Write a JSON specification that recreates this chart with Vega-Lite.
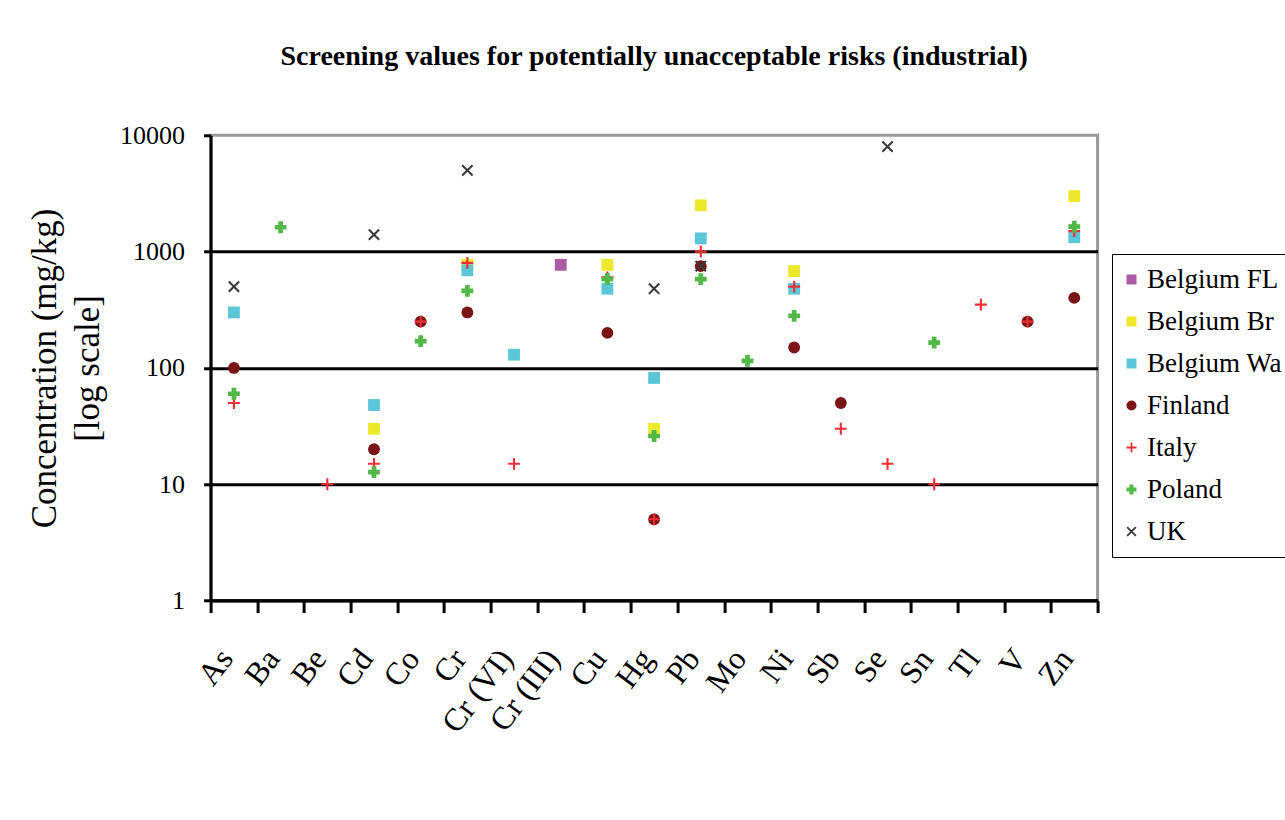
{
  "$schema": "https://vega.github.io/schema/vega-lite/v6.json",
  "autosize": "none",
  "width": 887,
  "height": 465.3,
  "padding": {"left": 210.6, "top": 135.3, "right": 187.4, "bottom": 219.4},
  "background": "white",
  "title": {
    "text": "Screening values for  potentially unacceptable risks (industrial)",
    "font": "Liberation Serif",
    "fontSize": 28,
    "fontWeight": "bold",
    "color": "black",
    "anchor": "middle",
    "frame": "group",
    "baseline": "alphabetic",
    "offset": 29
  },
  "data": {
    "values": [
      {"el": "Cr (III)", "country": "Belgium FL", "v": 770},

      {"el": "Cd", "country": "Belgium Br", "v": 30},
      {"el": "Cr", "country": "Belgium Br", "v": 770},
      {"el": "Cu", "country": "Belgium Br", "v": 770},
      {"el": "Hg", "country": "Belgium Br", "v": 30},
      {"el": "Pb", "country": "Belgium Br", "v": 2500},
      {"el": "Ni", "country": "Belgium Br", "v": 680},
      {"el": "Zn", "country": "Belgium Br", "v": 3000},

      {"el": "As", "country": "Belgium Wa", "v": 300},
      {"el": "Cd", "country": "Belgium Wa", "v": 48},
      {"el": "Cr", "country": "Belgium Wa", "v": 690},
      {"el": "Cr (VI)", "country": "Belgium Wa", "v": 130},
      {"el": "Cu", "country": "Belgium Wa", "v": 480},
      {"el": "Hg", "country": "Belgium Wa", "v": 82},
      {"el": "Pb", "country": "Belgium Wa", "v": 1300},
      {"el": "Ni", "country": "Belgium Wa", "v": 480},
      {"el": "Zn", "country": "Belgium Wa", "v": 1330},

      {"el": "As", "country": "Finland", "v": 100},
      {"el": "Cd", "country": "Finland", "v": 20},
      {"el": "Co", "country": "Finland", "v": 250},
      {"el": "Cr", "country": "Finland", "v": 300},
      {"el": "Cu", "country": "Finland", "v": 200},
      {"el": "Hg", "country": "Finland", "v": 5},
      {"el": "Pb", "country": "Finland", "v": 750},
      {"el": "Ni", "country": "Finland", "v": 150},
      {"el": "Sb", "country": "Finland", "v": 50},
      {"el": "V", "country": "Finland", "v": 250},
      {"el": "Zn", "country": "Finland", "v": 400},

      {"el": "As", "country": "Italy", "v": 50},
      {"el": "Be", "country": "Italy", "v": 10},
      {"el": "Cd", "country": "Italy", "v": 15},
      {"el": "Co", "country": "Italy", "v": 250},
      {"el": "Cr", "country": "Italy", "v": 800},
      {"el": "Cr (VI)", "country": "Italy", "v": 15},
      {"el": "Cu", "country": "Italy", "v": 600},
      {"el": "Hg", "country": "Italy", "v": 5},
      {"el": "Pb", "country": "Italy", "v": 1000},
      {"el": "Ni", "country": "Italy", "v": 500},
      {"el": "Sb", "country": "Italy", "v": 30},
      {"el": "Se", "country": "Italy", "v": 15},
      {"el": "Sn", "country": "Italy", "v": 10},
      {"el": "Tl", "country": "Italy", "v": 350},
      {"el": "V", "country": "Italy", "v": 250},
      {"el": "Zn", "country": "Italy", "v": 1500},

      {"el": "As", "country": "Poland", "v": 60},
      {"el": "Ba", "country": "Poland", "v": 1620},
      {"el": "Cd", "country": "Poland", "v": 12.7},
      {"el": "Co", "country": "Poland", "v": 170},
      {"el": "Cr", "country": "Poland", "v": 460},
      {"el": "Cu", "country": "Poland", "v": 580},
      {"el": "Hg", "country": "Poland", "v": 26},
      {"el": "Pb", "country": "Poland", "v": 580},
      {"el": "Mo", "country": "Poland", "v": 115},
      {"el": "Ni", "country": "Poland", "v": 280},
      {"el": "Sn", "country": "Poland", "v": 165},
      {"el": "Zn", "country": "Poland", "v": 1640},

      {"el": "As", "country": "UK", "v": 500},
      {"el": "Cd", "country": "UK", "v": 1400},
      {"el": "Cr", "country": "UK", "v": 5000},
      {"el": "Hg", "country": "UK", "v": 480},
      {"el": "Pb", "country": "UK", "v": 750},
      {"el": "Se", "country": "UK", "v": 8000}
    ]
  },
  "mark": {"type": "point", "filled": true, "opacity": 1, "size": 140, "strokeWidth": 0},
  "encoding": {
    "x": {
      "field": "el",
      "type": "nominal",
      "sort": ["As", "Ba", "Be", "Cd", "Co", "Cr", "Cr (VI)", "Cr (III)", "Cu", "Hg", "Pb", "Mo", "Ni", "Sb", "Se", "Sn", "Tl", "V", "Zn"],
      "scale": {"type": "band", "paddingInner": 0, "paddingOuter": 0},
      "axis": {
        "title": null,
        "tickBand": "extent",
        "domainColor": "black",
        "domainWidth": 3,
        "tickColor": "black",
        "tickWidth": 3,
        "tickSize": 12,
        "labelFont": "Liberation Serif",
        "labelFontSize": 32,
        "labelColor": "black",
        "labelAngle": -53,
        "labelAlign": "right",
        "labelBaseline": "middle",
        "labelPadding": 40,
        "labelOffset": -8,
        "grid": false
      }
    },
    "y": {
      "field": "v",
      "type": "quantitative",
      "scale": {"type": "log", "domain": [1, 10000]},
      "axis": {
        "values": [1, 10, 100, 1000, 10000],
        "format": "d",
        "title": ["Concentration (mg/kg)", "[log scale]"],
        "titleFont": "Liberation Serif",
        "titleFontSize": 35,
        "titleFontWeight": "normal",
        "titleColor": "black",
        "titleLineHeight": 43,
        "titlePadding": 14,
        "labelFont": "Liberation Serif",
        "labelFontSize": 26,
        "labelColor": "black",
        "labelPadding": 19,
        "domainColor": "black",
        "domainWidth": 3,
        "tickColor": "black",
        "tickWidth": 3,
        "tickSize": 7,
        "grid": true,
        "gridColor": "black",
        "gridWidth": 3,
        "gridOpacity": {"condition": {"test": "datum.value >= 10000", "value": 0}, "value": 1}
      }
    },
    "color": {
      "field": "country",
      "type": "nominal",
      "scale": {
        "domain": ["Belgium FL", "Belgium Br", "Belgium Wa", "Finland", "Italy", "Poland", "UK"],
        "range": ["#AC5AA6", "#EDE82C", "#5BC6D7", "#7A1416", "#EE3036", "#52B848", "#3A3A3A"]
      },
      "legend": {
        "title": null,
        "orient": "none",
        "legendX": 901.4,
        "legendY": 118.7,
        "padding": 12,
        "rowPadding": 14,
        "labelFont": "Liberation Serif",
        "labelFontSize": 27,
        "labelColor": "black",
        "labelOffset": 2,
        "symbolOffset": -6,
        "symbolSize": 100,
        "symbolStrokeWidth": 0,
        "strokeColor": "black",
        "fillColor": "white"
      }
    },
    "shape": {
      "field": "country",
      "type": "nominal",
      "scale": {
        "domain": ["Belgium FL", "Belgium Br", "Belgium Wa", "Finland", "Italy", "Poland", "UK"],
        "range": [
          "square",
          "square",
          "square",
          "circle",
          "M-1,-0.18H1V0.18H-1Z M-0.18,-1H0.18V1H-0.18Z",
          "cross",
          "M-1,-0.75L-0.75,-1L1,0.75L0.75,1Z M-0.75,1L-1,0.75L0.75,-1L1,-0.75Z"
        ]
      },
      "legend": {
        "title": null,
        "orient": "none",
        "legendX": 901.4,
        "legendY": 118.7,
        "padding": 12,
        "rowPadding": 14,
        "labelFont": "Liberation Serif",
        "labelFontSize": 27,
        "labelColor": "black",
        "labelOffset": 2,
        "symbolOffset": -6,
        "symbolSize": 100,
        "symbolStrokeWidth": 0,
        "strokeColor": "black",
        "fillColor": "white"
      }
    }
  },
  "config": {
    "view": {"stroke": "#999999", "strokeWidth": 3}
  }
}
